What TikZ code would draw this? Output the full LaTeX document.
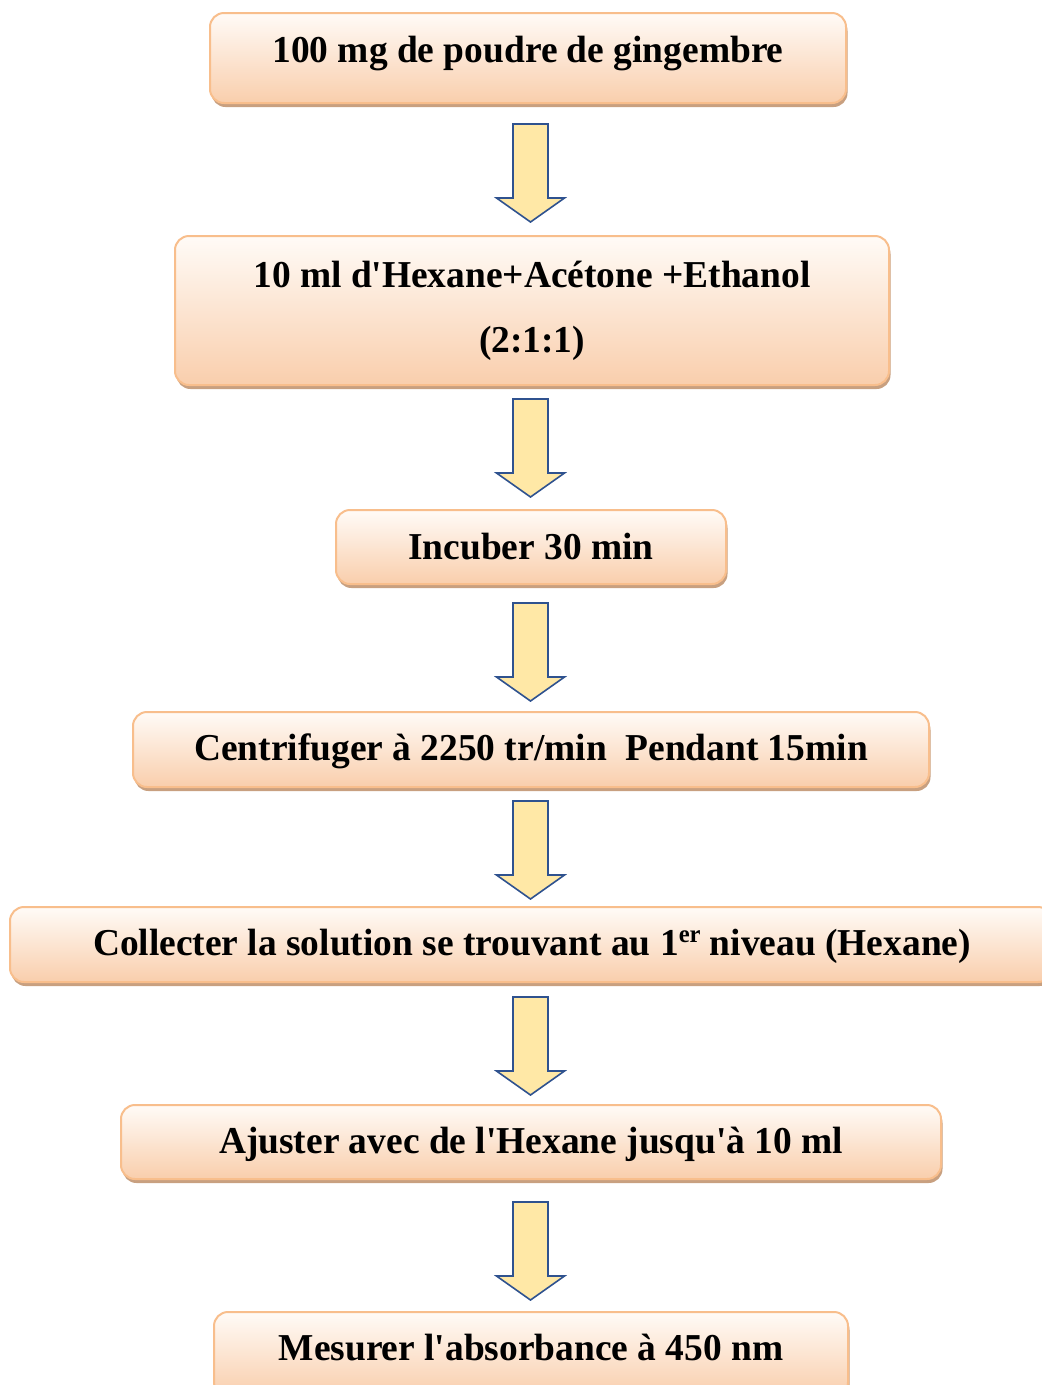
\documentclass[tikz,border=0pt]{standalone}
\usepackage{fontspec}
\setmainfont{Liberation Serif}[FakeStretch=0.985, Ligatures=TeXOff]
\usetikzlibrary{shadows}
\definecolor{boxborder}{RGB}{248,190,140}
\definecolor{boxtop}{RGB}{255,251,247}
\definecolor{boxbot}{RGB}{249,206,172}
\definecolor{shadowcol}{RGB}{200,160,128}
\definecolor{arrfill}{RGB}{255,232,166}
\definecolor{arrline}{RGB}{47,82,143}
\tikzset{
  stepbox/.style={draw=boxborder, line width=2pt, rounded corners=14pt,
    top color=boxtop, bottom color=boxbot, inner sep=0pt,
    drop shadow={shadow xshift=1.5pt, shadow yshift=-4pt, fill=shadowcol, opacity=1}},
  txt/.style={anchor=base, inner sep=0pt, font=\fontsize{38}{66}\selectfont\bfseries},
  arrstyle/.style={draw=arrline, fill=arrfill, line width=1.6pt, line join=miter},
  pics/downarr/.style={code={
    \draw[arrstyle] (-17.5,0) -- (17.5,0) -- (17.5,74) -- (34,74) -- (0,98)
      -- (-34,74) -- (-17.5,74) -- cycle;}}
}
\begin{document}
\begin{tikzpicture}[x=1pt,y=-1pt]
\useasboundingbox[fill=white] (0,0) rectangle (1042,1385);
% boxes
\node[stepbox, minimum width=636, minimum height=90] (b1) at (528,58) {};
\node[stepbox, minimum width=714, minimum height=149] (b2) at (532,310.5) {};
\node[stepbox, minimum width=390, minimum height=74] (b3) at (531,547) {};
\node[stepbox, minimum width=796, minimum height=75] (b4) at (531,749.5) {};
\node[stepbox, minimum width=1042, minimum height=75] (b5) at (531,944.5) {};
\node[stepbox, minimum width=820, minimum height=74] (b6) at (531,1142) {};
\node[stepbox, minimum width=634, minimum height=84] (b7) at (531,1354) {};
% texts
\node[txt] (t1) at (528,62.5) {100 mg de poudre de gingembre};
\node[txt] (t2a) at (532,287) {10 ml d'Hexane+Acétone +Ethanol};
\node[txt] (t2b) at (532,352) {(2:1:1)};
\node[txt] (t3) at (531,559) {Incuber 30 min};
\node[txt] (t4) at (531,760) {Centrifuger à 2250 tr/min\ \ Pendant 15min};
\node[txt] (t5) at (532,955) {Collecter la solution se trouvant au 1\raisebox{13pt}{\fontsize{25}{25}\selectfont er} niveau (Hexane)};
\node[txt] (t6) at (531,1153) {Ajuster avec de l'Hexane jusqu'à 10 ml};
\node[txt] (t7) at (531,1360) {Mesurer l'absorbance à 450 nm};
% arrows
\coordinate (a1) at (530.5,124);
\coordinate (a2) at (530.5,399);
\coordinate (a3) at (530.5,603);
\coordinate (a4) at (530.5,801);
\coordinate (a5) at (530.5,997);
\coordinate (a6) at (530.5,1202);
\pic at (a1) {downarr};
\pic at (a2) {downarr};
\pic at (a3) {downarr};
\pic at (a4) {downarr};
\pic at (a5) {downarr};
\pic at (a6) {downarr};
\end{tikzpicture}
\end{document}
